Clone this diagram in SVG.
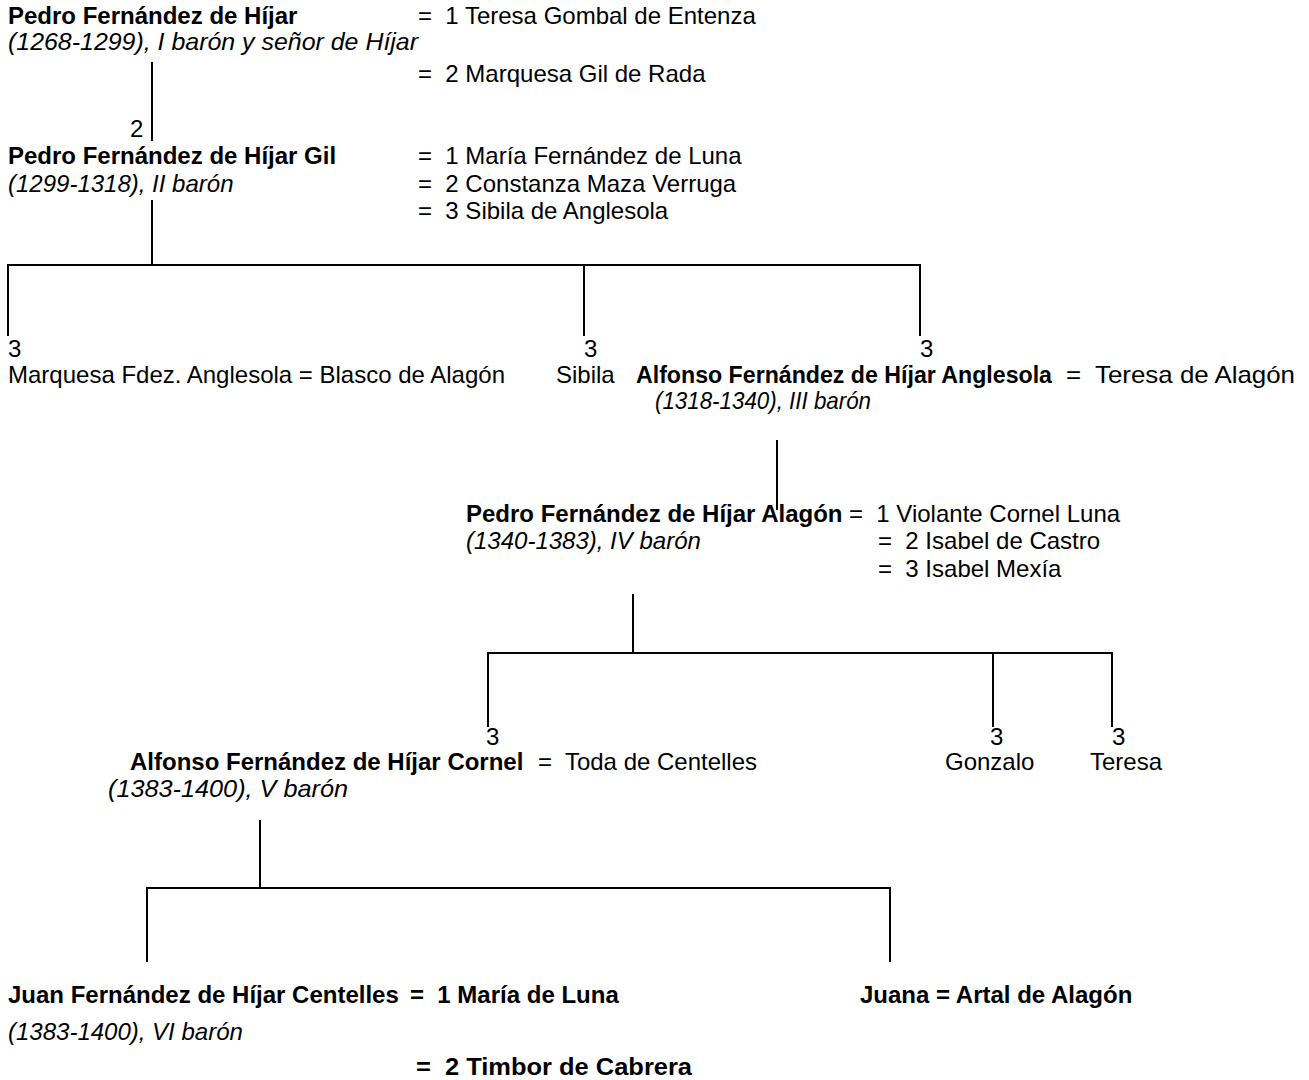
<svg xmlns="http://www.w3.org/2000/svg" width="1309" height="1080" viewBox="0 0 1309 1080" xml:space="preserve">
<style>
text{font-family:"Liberation Sans",Arial,sans-serif;font-size:24px;fill:#000;white-space:pre}
.b{font-weight:bold}
.i{font-style:italic}
.c line{stroke:#000;stroke-width:2}
</style>
<rect width="1309" height="1080" fill="#fff"/>
<g class="c" id="connectors">
<line x1="152" y1="62" x2="152" y2="141"/>
<line x1="152" y1="200" x2="152" y2="265"/>
<line x1="7" y1="265" x2="921" y2="265"/>
<line x1="8" y1="264" x2="8" y2="336"/>
<line x1="584" y1="264" x2="584" y2="336"/>
<line x1="920" y1="264" x2="920" y2="336"/>
<line x1="777" y1="440" x2="777" y2="510"/>
<line x1="633" y1="594" x2="633" y2="653"/>
<line x1="487" y1="653" x2="1113" y2="653"/>
<line x1="488" y1="652" x2="488" y2="727"/>
<line x1="993" y1="652" x2="993" y2="727"/>
<line x1="1112" y1="652" x2="1112" y2="727"/>
<line x1="260" y1="820" x2="260" y2="888"/>
<line x1="146" y1="888" x2="891" y2="888"/>
<line x1="147" y1="887" x2="147" y2="962"/>
<line x1="890" y1="887" x2="890" y2="962"/>
</g>
<g id="n1">
<text class="b" x="8" y="24">Pedro Fernández de Híjar</text>
<text class="i" x="8" y="50" textLength="410" lengthAdjust="spacingAndGlyphs">(1268-1299), I barón y señor de Híjar</text>
<text x="418" y="24">=  1 Teresa Gombal de Entenza</text>
<text x="418" y="82">=  2 Marquesa Gil de Rada</text>
</g>
<g id="n2">
<text x="130" y="137">2</text>
<text class="b" x="8" y="164">Pedro Fernández de Híjar Gil</text>
<text class="i" x="8" y="192">(1299-1318), II barón</text>
<text x="418" y="164">=  1 María Fernández de Luna</text>
<text x="418" y="192">=  2 Constanza Maza Verruga</text>
<text x="418" y="219">=  3 Sibila de Anglesola</text>
</g>
<g id="n3">
<text x="8" y="357">3</text>
<text x="8" y="383">Marquesa Fdez. Anglesola = Blasco de Alagón</text>
</g>
<g id="n4">
<text x="584" y="357">3</text>
<text x="556" y="383">Sibila</text>
</g>
<g id="n5">
<text x="920" y="357">3</text>
<text class="b" x="636" y="383" textLength="416" lengthAdjust="spacingAndGlyphs">Alfonso Fernández de Híjar Anglesola</text>
<text x="1066" y="383" textLength="229" lengthAdjust="spacingAndGlyphs">=  Teresa de Alagón</text>
<text class="i" x="655" y="409" textLength="216" lengthAdjust="spacingAndGlyphs">(1318-1340), III barón</text>
</g>
<g id="n6">
<text class="b" x="466" y="522">Pedro Fernández de Híjar Alagón</text>
<text x="849" y="522">=  1 Violante Cornel Luna</text>
<text class="i" x="466" y="549">(1340-1383), IV barón</text>
<text x="878" y="549">=  2 Isabel de Castro</text>
<text x="878" y="577">=  3 Isabel Mexía</text>
</g>
<g id="n7">
<text x="486" y="745">3</text>
<text class="b" x="130" y="770">Alfonso Fernández de Híjar Cornel</text>
<text x="538" y="770">=  Toda de Centelles</text>
<text class="i" x="108" y="797" textLength="240" lengthAdjust="spacingAndGlyphs">(1383-1400), V barón</text>
</g>
<g id="n8">
<text x="990" y="745">3</text>
<text x="945" y="770">Gonzalo</text>
</g>
<g id="n9">
<text x="1112" y="745">3</text>
<text x="1090" y="770">Teresa</text>
</g>
<g id="n10">
<text class="b" x="8" y="1003">Juan Fernández de Híjar Centelles</text>
<text class="b" x="410" y="1003">=  1 María de Luna</text>
<text class="i" x="8" y="1040">(1383-1400), VI barón</text>
<text class="b" x="416" y="1075" textLength="276" lengthAdjust="spacingAndGlyphs">=  2 Timbor de Cabrera</text>
</g>
<g id="n11">
<text class="b" x="860" y="1003">Juana = Artal de Alagón</text>
</g>
</svg>
